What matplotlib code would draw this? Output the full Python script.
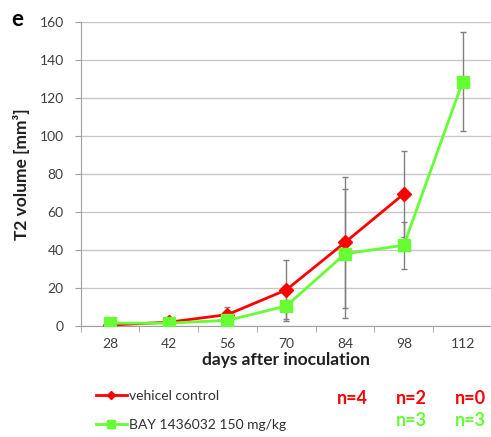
import numpy as np
import matplotlib
matplotlib.use("Agg")
import matplotlib.pyplot as plt
from matplotlib.transforms import blended_transform_factory

plt.rcParams['font.family'] = ['Lato', 'DejaVu Sans']

# Tumour volume (mean +/- SD) per imaging day
days = [28, 42, 56, 70, 84, 98, 112]
vehicle = [0.5, 2.0, 6.0, 19.0, 44.0, 69.5, np.nan]
vehicle_err = [1.5, 2.5, 4.0, 15.5, 34.5, 22.5, np.nan]
bay = [1.5, 1.5, 3.0, 10.5, 38.0, 42.5, 128.5]
bay_err = [0.5, 0.5, 1.0, 8.0, 34.0, 12.5, 26.0]

series_labels = ["vehicel control", "BAY 1436032 150 mg/kg"]
yticks = [0, 20, 40, 60, 80, 100, 120, 140, 160]

# group sizes shown under the last three time points
n_vehicle = {84: "n=4", 98: "n=2", 112: "n=0"}
n_bay = {98: "n=3", 112: "n=3"}

RED = "#ff0000"
GREEN = "#66ff33"
GRID = "#c8c8c8"

W, H = 491, 437
fig = plt.figure(figsize=(W / 100, H / 100), dpi=100)
ax = fig.add_axes([80.5 / W, (H - 326) / H, (492 - 80.5) / W, (326 - 22) / H])

idx = np.arange(len(days))

ax.errorbar(idx, vehicle, yerr=vehicle_err, fmt="none", ecolor="#808080",
            elinewidth=1.0, capsize=2.5, capthick=1.0, zorder=2)
ax.errorbar(idx, bay, yerr=bay_err, fmt="none", ecolor="#808080",
            elinewidth=1.0, capsize=2.5, capthick=1.0, zorder=2)

l1, = ax.plot(idx, vehicle, color=RED, lw=2.0, marker="D", ms=7,
              mec=RED, mfc=RED, zorder=3, label=series_labels[0])
l2, = ax.plot(idx, bay, color=GREEN, lw=2.0, marker="s", ms=9,
              mec=GREEN, mfc=GREEN, zorder=4, label=series_labels[1])

ax.set_xlim(-0.5, len(days) - 0.5)
ax.set_ylim(0, 160)
ax.set_yticks(yticks)
ax.yaxis.grid(True, color=GRID, lw=1.0)
ax.set_axisbelow(True)

ax.set_xticks(idx)
ax.set_xticklabels([str(d) for d in days])
ax.set_xticks(np.arange(-0.5, len(days) + 0.5, 1.0), minor=True)
ax.tick_params(axis="x", which="major", length=0, pad=9, labelsize=10,
               labelcolor="#404040")
ax.tick_params(axis="x", which="minor", length=4, color="#a0a0a0",
               direction="out")
ax.tick_params(axis="y", length=4, color="#a0a0a0", direction="out",
               labelsize=10, labelcolor="#404040", pad=8)

for s in ("top", "right"):
    ax.spines[s].set_visible(False)
ax.spines["left"].set_color("#a0a0a0")
ax.spines["bottom"].set_color("#a0a0a0")

ax.set_xlabel("days after inoculation", fontsize=12.5, fontweight="bold",
              color="#202020", labelpad=1)
ax.set_ylabel("T2 volume [mm³]", fontsize=12.5, fontweight="bold",
              color="#202020", labelpad=7)

fig.text(11 / W, 1 - 19 / H, "e", fontsize=16, fontweight="bold",
         ha="left", va="center")

leg = fig.legend(handles=[l1, l2], loc="upper left",
                 bbox_to_anchor=(96 / W, 1 - 390 / H), frameon=False,
                 fontsize=10, handlelength=2.2, handletextpad=0.2,
                 labelspacing=1.2, markerscale=0.6, numpoints=1,
                 borderaxespad=0, borderpad=0)
for t in leg.get_texts():
    t.set_color("#303030")

tr = blended_transform_factory(ax.transData, fig.transFigure)
for d, s in n_vehicle.items():
    fig.text(days.index(d) + 0.13, 1 - 398 / H, s, transform=tr, color=RED,
             fontsize=13, fontweight="bold", ha="center", va="center")
for d, s in n_bay.items():
    fig.text(days.index(d) + 0.13, 1 - 420 / H, s, transform=tr, color=GREEN,
             fontsize=13, fontweight="bold", ha="center", va="center")

fig.savefig("out.png", dpi=100)
